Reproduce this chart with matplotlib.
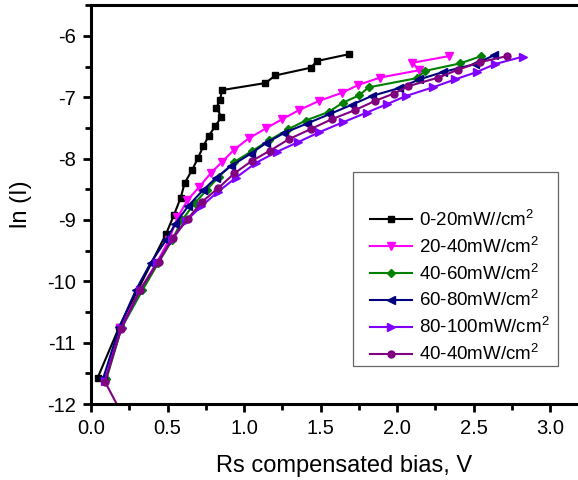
import matplotlib
matplotlib.use('Agg')
import matplotlib.pyplot as plt
from matplotlib.ticker import MultipleLocator
from matplotlib.patches import Rectangle

plt.rcParams['font.family'] = ['Liberation Sans', 'DejaVu Sans']
plt.rcParams['mathtext.default'] = 'regular'
plt.rcParams['axes.unicode_minus'] = False

# data (x = Rs compensated bias in V, y = ln(I))
x_0_20 = [0.044, 0.185, 0.49, 0.542, 0.586, 0.612, 0.662, 0.699, 0.734, 0.769, 0.813,
          0.852, 0.819, 0.845, 0.854, 1.139, 1.205, 1.436, 1.477, 1.684]
y_0_20 = [-11.57, -10.74, -9.23, -8.92, -8.64, -8.40, -8.18, -7.99, -7.80, -7.63, -7.47,
          -7.32, -7.17, -7.04, -6.885, -6.77, -6.645, -6.52, -6.41, -6.30]

x_20_40 = [0.09, 0.19, 0.32, 0.43, 0.51, 0.565, 0.63, 0.708, 0.782, 0.858, 0.933, 1.031,
           1.142, 1.248, 1.36, 1.49, 1.638, 1.747, 1.889, 2.146, 2.10, 2.34]
y_20_40 = [-11.62, -10.76, -10.15, -9.70, -9.32, -8.96, -8.68, -8.46, -8.24, -8.05, -7.86, -7.67,
           -7.51, -7.36, -7.21, -7.06, -6.93, -6.80, -6.68, -6.56, -6.44, -6.33]

x_40_60 = [0.10, 0.20, 0.335, 0.44, 0.53, 0.595, 0.678, 0.756, 0.834, 0.933, 1.05, 1.166,
           1.29, 1.403, 1.553, 1.645, 1.752, 1.813, 2.128, 2.185, 2.41, 2.55]
y_40_60 = [-11.60, -10.76, -10.15, -9.70, -9.33, -9.00, -8.73, -8.51, -8.30, -8.06, -7.88, -7.70,
           -7.52, -7.38, -7.24, -7.09, -6.97, -6.84, -6.69, -6.57, -6.45, -6.33]

x_60_80 = [0.08, 0.185, 0.294, 0.39, 0.49, 0.549, 0.636, 0.73, 0.819, 0.915, 1.044, 1.142,
           1.264, 1.41, 1.555, 1.707, 1.835, 2.015, 2.145, 2.30, 2.51, 2.63]
y_60_80 = [-11.58, -10.75, -10.14, -9.70, -9.33, -9.07, -8.77, -8.52, -8.31, -8.12, -7.92, -7.75,
           -7.58, -7.43, -7.28, -7.12, -6.98, -6.85, -6.71, -6.59, -6.46, -6.32]

x_80_100 = [0.09, 0.20, 0.32, 0.43, 0.53, 0.62, 0.72, 0.83, 0.948, 1.078, 1.214, 1.355,
            1.492, 1.645, 1.802, 1.937, 2.059, 2.233, 2.379, 2.52, 2.64, 2.82]
y_80_100 = [-11.62, -10.76, -10.15, -9.70, -9.32, -9.02, -8.78, -8.54, -8.31, -8.07, -7.89, -7.73,
            -7.57, -7.41, -7.25, -7.11, -6.98, -6.84, -6.71, -6.59, -6.46, -6.34]

x_40_40 = [0.20, 0.092, 0.196, 0.32, 0.442, 0.534, 0.632, 0.728, 0.832, 0.937, 1.05, 1.17,
           1.296, 1.436, 1.572, 1.725, 1.856, 1.98, 2.074, 2.27, 2.40, 2.54, 2.72]
y_40_40 = [-12.15, -11.64, -10.77, -10.14, -9.68, -9.29, -8.98, -8.70, -8.48, -8.24, -8.04, -7.87,
           -7.68, -7.52, -7.36, -7.21, -7.06, -6.94, -6.82, -6.68, -6.55, -6.43, -6.33]

labels = ['0-20mW//cm$^2$', '20-40mW/cm$^2$', '40-60mW/cm$^2$',
          '60-80mW/cm$^2$', '80-100mW/cm$^2$', '40-40mW/cm$^2$']

fig = plt.figure(figsize=(5.78, 4.8), dpi=100)
ax = fig.add_axes([0.1574, 0.1583, 0.874, 0.831])

ax.plot(x_0_20, y_0_20, color='black', marker='s', markersize=4.5, linewidth=1.5, label=labels[0])
ax.plot(x_20_40, y_20_40, color='#FF00FF', marker='v', markersize=5.5, linewidth=1.5, label=labels[1])
ax.plot(x_40_60, y_40_60, color='#008000', marker='D', markersize=4.5, linewidth=1.5, label=labels[2])
ax.plot(x_60_80, y_60_80, color='#000080', marker='<', markersize=5.5, linewidth=1.5, label=labels[3])
ax.plot(x_80_100, y_80_100, color='#8000FF', marker='>', markersize=5.5, linewidth=1.5, label=labels[4])
ax.plot(x_40_40, y_40_40, color='#800080', marker='o', markersize=5, linewidth=1.5, label=labels[5])

ax.set_xlim(0, 3.3)
ax.set_ylim(-12, -5.5)
ax.xaxis.set_major_locator(MultipleLocator(0.5))
ax.xaxis.set_minor_locator(MultipleLocator(0.25))
ax.yaxis.set_major_locator(MultipleLocator(1))
ax.yaxis.set_minor_locator(MultipleLocator(0.5))
ax.xaxis.set_major_formatter(plt.FormatStrFormatter('%.1f'))

for s in ['left', 'bottom', 'top']:
    ax.spines[s].set_linewidth(2.2)
ax.spines['right'].set_visible(False)
ax.tick_params(which='major', direction='out', length=6, width=2, labelsize=14.5, pad=5)
ax.tick_params(which='minor', direction='out', length=4, width=2)
ax.tick_params(top=False, right=False)

ax.set_xlabel('Rs compensated bias, V', fontsize=17, labelpad=12)
ax.set_ylabel('ln (I)', fontsize=17, labelpad=11)

# legend box (drawn separately so its blank top area matches)
ax.add_patch(Rectangle((0.5186, 0.0952), 0.4058, 0.4863, transform=ax.transAxes,
                       facecolor='white', edgecolor='#666666', linewidth=0.9, zorder=5))
leg = ax.legend(loc='upper left', bbox_to_anchor=(0.552, 0.487), fontsize=13.5,
                frameon=False, handlelength=2.25, handletextpad=0.37, labelspacing=0.36,
                borderpad=0, borderaxespad=0)
leg.set_zorder(6)

plt.savefig('out.png', dpi=100)
